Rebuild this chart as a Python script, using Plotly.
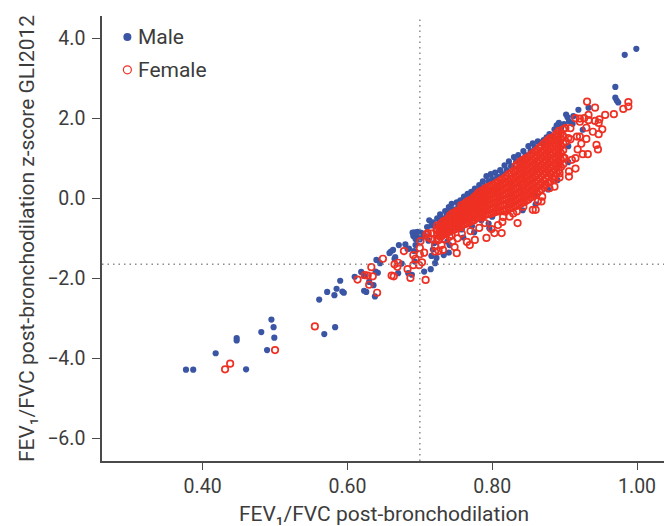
import plotly.graph_objects as go

x_tick_vals = [0.4, 0.6, 0.8, 1.0]
x_tick_text = ["0.40", "0.60", "0.80", "1.00"]
y_tick_vals = [4, 2, 0, -2, -4, -6]
y_tick_text = ["4.0", "2.0", "0.0", "\u22122.0", "\u22124.0", "\u22126.0"]

male_points = [
(.377,-4.28),(.387,-4.28),(.418,-3.87),(.447,-3.49),(.447,-3.55),(.460,-4.27),(.481,-3.34),(.489,-3.79),(.495,-3.03),(.498,-3.22),(.499,-3.48),
(.568,-3.39),(.583,-3.22),(.561,-2.53),(.572,-2.34),(.582,-2.42),(.585,-2.26),(.593,-2.33),(.595,-2.36),(.590,-2.06),(.610,-1.96),(.619,-1.84),
(.623,-1.94),(.623,-2.31),(.626,-2.34),(.638,-2.45),(.636,-2.17),(.630,-2.09),(.639,-1.83),(.642,-1.86),(.645,-1.62),(.640,-1.54),(.658,-1.37),
(.660,-1.33),(.663,-1.29),(.671,-1.17),(.680,-1.15),(.683,-1.27),(.665,-1.51),(.666,-1.47),(.675,-1.63),(.670,-1.87),(.684,-1.87),(.689,-1.91),
(.692,-1.32),(.694,-1.17),(.693,-1.58),(.706,-1.83),(.715,-1.77),
(.983,3.58),(.999,3.73),(.970,2.78),(.970,2.51),(.972,2.44),(.974,2.39),(.933,2.26),(.919,2.21),
(.690,-.86),(.693,-.85),(.697,-.84),(.701,-.86),(.705,-.88),(.691,-.94),(.695,-.95),(.699,-.93),(.703,-.97),(.707,-.95),(.694,-1.02),(.700,-1.03),
(.710,-.72),(.713,-.55),(.716,-.68),(.718,-.60),(.722,-.70),(.724,-.50),(.727,-.60),(.728,-.40),(.731,-.50),(.733,-.62),(.735,-.32),(.737,-.44),
(.740,-.22),(.742,-.35),(.744,-.14),(.746,-.28),(.749,-.42),(.751,-.10),(.753,-.22),(.756,-.05),(.758,-.16),(.761,.04),(.763,-.10),(.766,.11),
(.768,-.02),(.771,.16),(.773,.05),(.776,.24),(.779,.12),(.782,.33),(.784,.22),(.787,.42),(.790,.30),(.792,.55),(.795,.42),(.798,.60),(.800,.48),
(.804,.64),(.807,.54),(.811,.70),(.814,.60),(.817,.82),(.820,.70),(.823,.92),(.826,.80),(.830,1.03),(.833,.92),(.836,1.08),(.839,.98),(.843,1.18),
(.846,1.08),(.850,1.30),(.853,1.18),(.856,1.37),(.859,1.28),(.863,1.42),(.867,1.38),(.871,1.45),(.875,1.52),(.879,1.60),(.883,1.55),(.886,1.72),
(.889,1.82),(.892,1.88),(.895,1.75),(.899,1.85),(.902,2.09),(.904,2.02),(.906,1.92),(.911,1.86),(.912,2.05),(.925,1.71),(.905,1.30),(.905,.90),
(.860,.08),(.795,-.63),(.796,-.75),(.741,-1.17),(.740,-1.36),(.718,-1.28),(.721,-1.62),(.723,-1.49),(.685,-1.26),
(.743,-.85),(.758,-.78),(.772,-.70),(.785,-.55),(.800,-.46),(.842,-.30),(.860,-.15),(.877,.22),(.890,.45),(.760,-.98),(.775,-.85),
(.712,-1.06),(.720,-1.12),(.738,-1.08),(.733,-1.42),(.716,-1.44),
]

female_points = [
(.431,-4.27),(.438,-4.13),(.500,-3.79),(.555,-3.20),(.614,-2.03),(.624,-1.92),(.628,-1.93),(.635,-1.95),(.630,-2.16),(.641,-2.36),(.633,-1.72),
(.649,-1.51),(.665,-1.65),(.670,-1.61),(.669,-1.71),(.661,-1.93),(.664,-1.95),(.683,-1.77),(.687,-1.99),(.678,-1.32),(.691,-1.42),(.694,-1.51),
(.691,-1.67),(.699,-1.67),(.708,-2.04),(.706,-1.36),(.700,-1.24),(.701,-1.07),(.709,-.91),(.700,-1.40),(.703,-1.60),
(.988,2.40),(.988,2.29),(.981,2.23),(.968,2.10),(.956,2.08),(.942,2.26),(.931,2.41),(.933,2.08),(.921,1.99),(.915,2.00),(.927,2.00),(.933,1.95),
(.921,1.91),(.942,1.93),(.948,1.97),(.947,1.88),(.939,1.66),(.947,1.60),(.952,1.72),(.930,1.76),(.908,1.75),(.901,1.75),(.917,1.54),(.921,1.54),
(.930,1.48),(.923,1.36),(.944,1.33),(.946,1.22),(.932,1.10),(.918,1.22),(.925,1.10),(.915,1.00),(.910,.96),(.915,.74),(.906,.67),
(.906,.54),(.893,.62),(.893,.52),(.856,-.29),(.860,-.29),(.835,-.62),(.905,1.50),(.908,1.47),(.902,1.41),(.900,1.00),(.892,.83),(.886,.46),(.879,.25),
(.886,.29),(.872,.33),(.869,.04),(.863,-.08),(.868,-.08),(.843,-.21),(.834,-.33),(.829,-.38),(.824,-.46),(.817,-.33),(.815,-.47),(.824,-.13),
(.711,-.87),(.716,-.88),(.723,-.79),(.728,-.71),(.721,-1.19),(.721,-1.33),(.726,-1.32),(.732,-1.29),(.730,-1.17),(.726,-1.04),(.748,-1.22),(.751,-1.37),
(.741,-.96),(.765,-1.09),(.769,-1.17),(.776,-1.04),(.792,-.99),(.803,-.87),(.813,-.87),(.799,-.77),(.808,-.67),(.814,-.59),(.824,-.09),
(.735,-1.02),(.745,-1.08),(.752,-1.00),(.758,-.88),(.770,-.82),(.782,-.74),(.790,-.62),(.744,-.92),(.716,-1.02),(.712,-.98),
]

female_core = {
.724:[-1.0,-.9,-.78,-.68],.730:[-.95,-.84,-.74,-.62],.736:[-.88,-.77,-.66,-.55],.742:[-.82,-.7,-.61,-.49,-.42],
.748:[-.78,-.66,-.57,-.45,-.36],.754:[-.72,-.62,-.5,-.39,-.3],.760:[-.66,-.55,-.44,-.33,-.24,-.16],
.766:[-.62,-.5,-.4,-.3,-.18,-.08],.772:[-.57,-.47,-.36,-.24,-.13,-.03],.778:[-.5,-.4,-.29,-.19,-.08,.02,.08],
.784:[-.46,-.35,-.24,-.12,-.03,.08,.17],.790:[-.42,-.31,-.2,-.09,.02,.12,.24],.796:[-.4,-.28,-.15,-.05,.08,.18,.29],
.802:[-.36,-.25,-.12,0,.11,.22,.33],.808:[-.33,-.2,-.09,.03,.16,.27,.4],.814:[-.3,-.17,-.05,.08,.2,.34,.47],
.820:[-.28,-.15,-.02,.12,.26,.39,.55],.826:[-.25,-.1,.03,.18,.32,.47,.63],.832:[-.2,-.06,.09,.24,.38,.53,.68,.8],
.838:[-.15,0,.15,.29,.45,.6,.76,.9],.844:[-.1,.06,.2,.36,.52,.66,.82,.97],.850:[-.03,.12,.28,.43,.58,.73,.88,1.03],
.856:[.05,.2,.35,.5,.66,.8,.95,1.12],.862:[.12,.28,.44,.6,.75,.9,1.05,1.2],.868:[.22,.38,.54,.7,.84,1.0,1.15,1.3],
.874:[.35,.5,.65,.8,.95,1.1,1.25,1.4],.880:[.42,.6,.76,.92,1.08,1.24,1.4,1.5],.886:[.55,.72,.88,1.04,1.2,1.38,1.55],
.892:[.7,.88,1.04,1.22,1.38,1.55,1.68],.898:[.85,1.02,1.2,1.38,1.55,1.72],
.727:[-.95,-.83,-.72],.733:[-.9,-.78,-.68,-.57],.739:[-.84,-.72,-.6,-.5],.745:[-.8,-.7,-.58,-.48,-.38],
.751:[-.74,-.62,-.52,-.41,-.32],.757:[-.7,-.58,-.48,-.36,-.26,-.18],.763:[-.64,-.54,-.44,-.34,-.22,-.12],
.769:[-.6,-.5,-.38,-.26,-.16,-.05],.775:[-.55,-.43,-.32,-.21,-.1,.03],.781:[-.48,-.38,-.26,-.16,-.05,.06,.14],
.787:[-.44,-.32,-.22,-.1,0,.1,.2],.793:[-.4,-.3,-.18,-.06,.05,.16,.27],.799:[-.38,-.26,-.14,-.02,.1,.2,.32],
.805:[-.34,-.22,-.1,.02,.14,.26,.37],.811:[-.32,-.18,-.06,.06,.18,.31,.44],.817:[-.29,-.15,-.02,.1,.24,.37,.51],
.823:[-.26,-.12,.01,.15,.29,.43,.6],.829:[-.22,-.08,.06,.21,.35,.5,.68],.835:[-.17,-.02,.12,.26,.41,.57,.72,.85],
.841:[-.12,.03,.18,.33,.48,.63,.79,.94],.847:[-.06,.09,.24,.4,.55,.7,.85,1.0],.853:[.02,.16,.32,.47,.62,.77,.92,1.08],
.859:[.08,.24,.4,.55,.7,.85,1.0,1.16],.865:[.18,.33,.49,.65,.8,.95,1.1,1.26],.871:[.28,.44,.6,.75,.9,1.05,1.2,1.36],
.877:[.38,.55,.7,.86,1.02,1.18,1.33,1.46],.883:[.5,.66,.82,.98,1.14,1.3,1.47],.889:[.62,.8,.96,1.13,1.3,1.46,1.62],
.895:[.78,.95,1.12,1.3,1.47,1.63],
}

male_fev = [p[0] for p in male_points]
male_z = [p[1] for p in male_points]
female_fev = [p[0] for p in female_points] + [x for x, ys in female_core.items() for _ in ys]
female_z = [p[1] for p in female_points] + [y for ys in female_core.values() for y in ys]

TXT = "#3c3c3c"
AX = "#4a4a4a"
FONT = "Roboto, sans-serif"
RED = "#ee3124"
BLUE = "#3b55a5"

fig = go.Figure()
fig.add_trace(go.Scatter(x=male_fev, y=male_z, mode="markers", name="Male",
    marker=dict(symbol="circle", size=6.2, color=BLUE)))
fig.add_trace(go.Scatter(x=female_fev, y=female_z, mode="markers", name="Female",
    marker=dict(symbol="circle-open", size=6.5, color=RED, line=dict(width=1.7, color=RED))))

dot = dict(color="#8c8c8c", width=1.5, dash="1.5px,4px")
fig.add_shape(type="line", xref="x", yref="paper", x0=0.7, x1=0.7, y0=0, y1=1, line=dot)
fig.add_shape(type="line", xref="paper", yref="y", x0=0, x1=1, y0=-1.645, y1=-1.645, line=dot)

# legend keys and labels, placed to match the reference spacing
for label, ky, style in [("Male", 0.953, dict(fillcolor=BLUE, line=dict(color=BLUE, width=0))),
                         ("Female", 0.879, dict(fillcolor="rgba(0,0,0,0)", line=dict(color=RED, width=1.2)))]:
    fig.add_shape(type="circle", xref="paper", yref="paper", xsizemode="pixel", ysizemode="pixel",
                  xanchor=0.045, yanchor=ky, x0=-4, x1=4, y0=-4, y1=4, **style)
    fig.add_annotation(text=label, xref="paper", yref="paper", x=0.0663, y=ky, xanchor="left", yanchor="middle",
                       showarrow=False, xshift=-3, font=dict(size=21, color=TXT))

fig.update_layout(
    width=664, height=518, autosize=False,
    margin=dict(l=93.6, r=6, t=8, b=65, autoexpand=False),
    paper_bgcolor="white", plot_bgcolor="white",
    font=dict(family=FONT, size=20, color=TXT),
    showlegend=False,
    xaxis=dict(range=[0.261, 1.04], tickvals=x_tick_vals, ticktext=x_tick_text, showgrid=False, zeroline=False,
               showline=True, linecolor=AX, linewidth=1.5, ticks="outside", ticklen=7, tickcolor=AX, tickwidth=1.2,
               tickfont=dict(size=19.5, color=TXT),
               title=dict(text="FEV\u2081/FVC post-bronchodilation", standoff=9, font=dict(size=21, color=TXT))),
    yaxis=dict(range=[-6.56, 4.55], tickvals=y_tick_vals, ticktext=y_tick_text, showgrid=False, zeroline=False,
               showline=True, linecolor=AX, linewidth=1.5, ticks="outside", ticklen=8, tickcolor=AX, tickwidth=1.2,
               ticklabelstandoff=3,
               tickfont=dict(size=19.5, color=TXT),
               title=dict(text="FEV\u2081/FVC post-bronchodilation z-score GLI2012", standoff=7, font=dict(size=21, color=TXT))),
)
fig.write_html("out.html")
